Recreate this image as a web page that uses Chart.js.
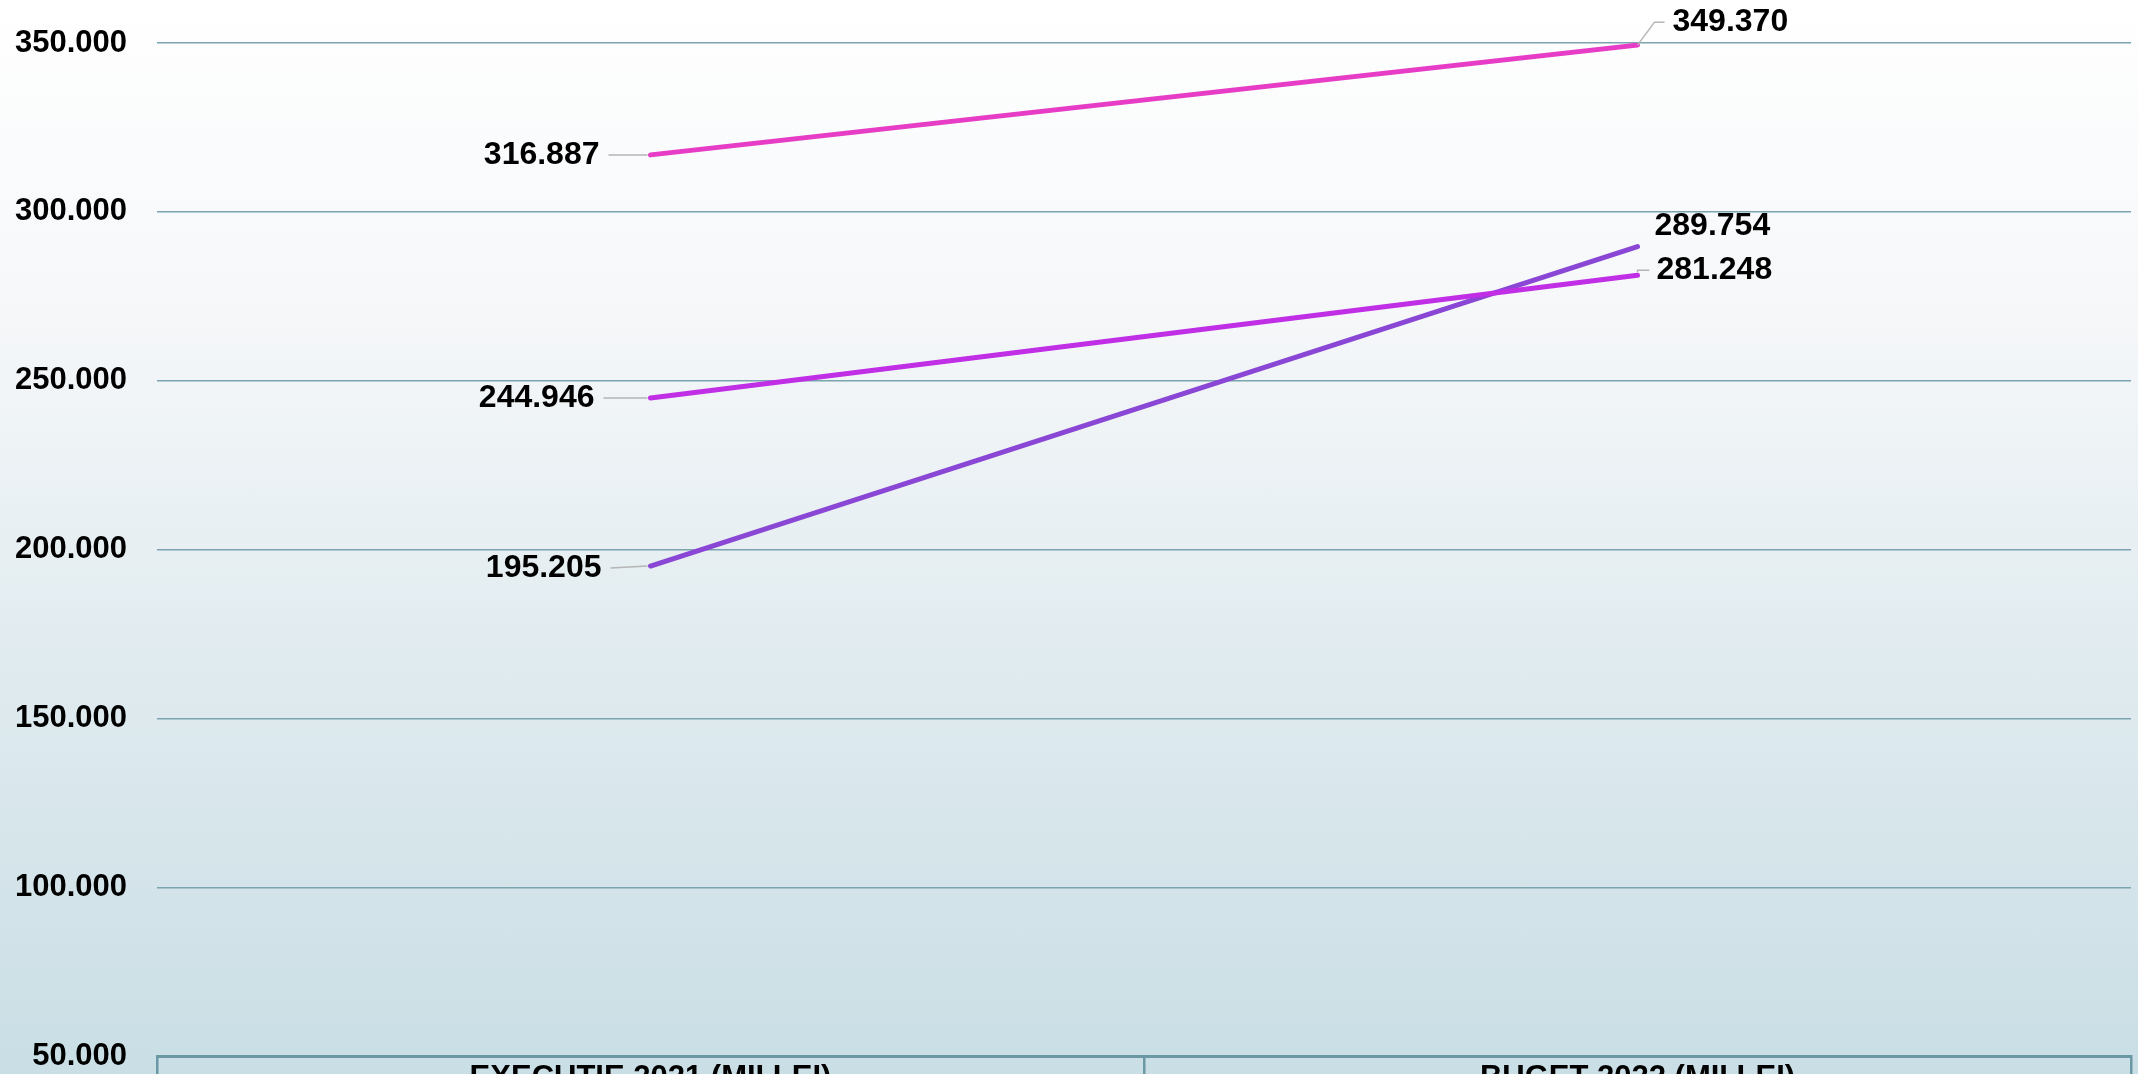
<!DOCTYPE html>
<html>
<head>
<meta charset="utf-8">
<title>Executie 2021 / Buget 2022</title>
<script src="https://cdn.jsdelivr.net/npm/chart.js@4.4.1/dist/chart.umd.min.js"></script>
<style>
    html, body {
        margin: 0;
        padding: 0;
        overflow: hidden;
    }
    body {
        width: 2138px;
        height: 1074px;
        background: linear-gradient(to bottom, #ffffff 0%, #f5f7f9 30%, #e0ebef 62%, #c9dee5 100%);
    }
    canvas {
        display: block;
    }
</style>
</head>
<body>
<canvas id="grafic" width="2138" height="1074"></canvas>
<script>
const categorii = ['EXECUTIE 2021 (MII LEI)', 'BUGET 2022 (MII LEI)'];
const serie1 = [316887, 349370];
const serie2 = [244946, 281248];
const serie3 = [195205, 289754];
const axaMin = 50000;
const axaMax = 350000;
const axaPas = 50000;

// pozitia etichetelor fata de punct: [stanga, dreapta] pentru fiecare serie
const pozitiiEtichete = [
    [{ dx: -51, dy: 0, linie: 'orizontal' }, { dx: 35, dy: -23, linie: 'frant' }],
    [{ dx: -56, dy: 0, linie: 'orizontal' }, { dx: 19, dy: -5, linie: 'colt' }],
    [{ dx: -49, dy: 2, linie: 'orizontal' }, { dx: 17, dy: -20, linie: null }]
];

const fontGrafic = '"Liberation Sans", Arial, sans-serif';

function formatNumar(valoare) {
    return String(Math.round(valoare)).replace(/\B(?=(\d{3})+(?!\d))/g, '.');
}

const pluginEtichete = {
    id: 'etichete',
    afterDatasetsDraw(chart) {
        const ctx = chart.ctx;
        ctx.save();
        ctx.font = 'bold 32px ' + fontGrafic;
        ctx.textBaseline = 'middle';
        chart.data.datasets.forEach((ds, i) => {
            chart.getDatasetMeta(i).data.forEach((pt, j) => {
                const poz = pozitiiEtichete[i][j];
                const tx = pt.x + poz.dx;
                const ty = pt.y + poz.dy;
                ctx.strokeStyle = '#b5b5b5';
                ctx.lineWidth = 1.5;
                ctx.beginPath();
                if (poz.linie === 'orizontal') {
                    ctx.moveTo(tx + 9, ty);
                    ctx.lineTo(pt.x - 3, pt.y);
                } else if (poz.linie === 'frant') {
                    ctx.moveTo(pt.x, pt.y);
                    ctx.lineTo(tx - 18, ty);
                    ctx.lineTo(tx - 8, ty);
                } else if (poz.linie === 'colt') {
                    ctx.moveTo(pt.x, pt.y - 3);
                    ctx.lineTo(pt.x, ty);
                    ctx.lineTo(tx - 7, ty);
                }
                ctx.stroke();
                ctx.fillStyle = '#000000';
                ctx.textAlign = j === 0 ? 'right' : 'left';
                ctx.fillText(formatNumar(ds.data[j]), tx, ty);
            });
        });
        ctx.restore();
    }
};

function crearSerie(nume, valori, culoare) {
    return {
        label: nume,
        data: valori,
        borderColor: culoare,
        backgroundColor: culoare,
        borderWidth: 5,
        borderCapStyle: 'round',
        pointRadius: 0,
        pointHoverRadius: 0,
        tension: 0,
        fill: false
    };
}

function renderGrafic() {
    const ctx = document.getElementById('grafic').getContext('2d');
    Chart.defaults.font.family = fontGrafic;

    new Chart(ctx, {
        type: 'line',
        data: {
            labels: categorii,
            datasets: [
                crearSerie('Seria 1', serie1, '#e63cc6'),
                crearSerie('Seria 2', serie2, '#c02ee6'),
                crearSerie('Seria 3', serie3, '#8a46d4')
            ]
        },
        options: {
            responsive: false,
            devicePixelRatio: 1,
            animation: false,
            layout: {
                padding: { top: 43, right: 7, left: 0, bottom: 0 }
            },
            plugins: {
                legend: { display: false },
                tooltip: { enabled: false }
            },
            scales: {
                x: {
                    offset: true,
                    afterFit: function(scale) {
                        scale.height = 17.3;
                        scale.paddingLeft = 0;
                        scale.paddingRight = 0;
                    },
                    border: {
                        color: '#6a98a5',
                        width: 3
                    },
                    grid: {
                        offset: true,
                        drawOnChartArea: false,
                        drawTicks: true,
                        tickLength: 30,
                        color: '#6a98a5',
                        lineWidth: 2.5
                    },
                    ticks: {
                        padding: -27,
                        color: '#000000',
                        font: { size: 31, weight: 'bold' },
                        maxRotation: 0
                    }
                },
                y: {
                    min: axaMin,
                    max: axaMax,
                    afterFit: function(scale) {
                        scale.width = 157;
                        scale.paddingTop = 0;
                        scale.paddingBottom = 0;
                    },
                    border: { display: false },
                    grid: {
                        drawTicks: false,
                        color: '#7ba4b0',
                        lineWidth: 1.5
                    },
                    ticks: {
                        stepSize: axaPas,
                        padding: 30,
                        color: '#000000',
                        font: { size: 31, weight: 'bold' },
                        callback: function(valoare) {
                            return formatNumar(valoare);
                        }
                    }
                }
            }
        },
        plugins: [pluginEtichete]
    });
}

window.onload = function() {
    renderGrafic();
};
</script>
</body>
</html>
